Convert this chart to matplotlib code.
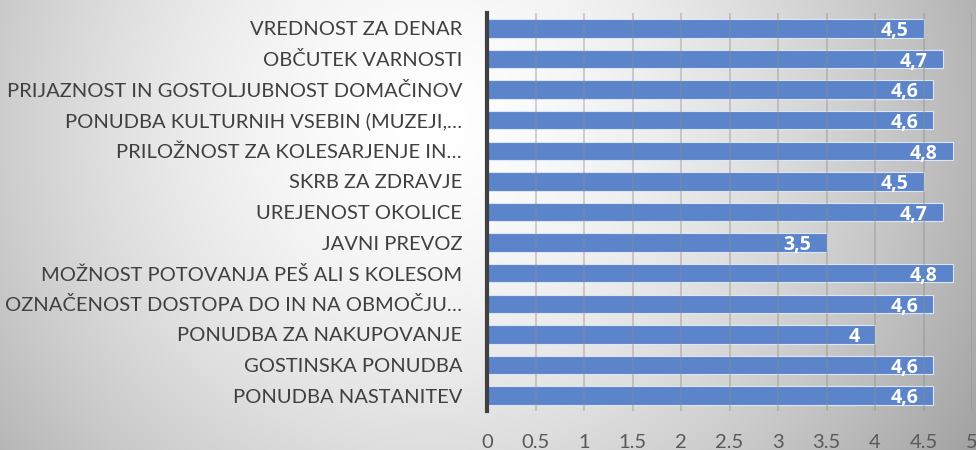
import matplotlib
matplotlib.use("Agg")
import matplotlib.pyplot as plt
import numpy as np

# categories top to bottom, as in the picture
categories = [
    "VREDNOST ZA DENAR",
    "OBČUTEK VARNOSTI",
    "PRIJAZNOST IN GOSTOLJUBNOST DOMAČINOV",
    "PONUDBA KULTURNIH VSEBIN (MUZEJI,…",
    "PRILOŽNOST ZA KOLESARJENJE IN…",
    "SKRB ZA ZDRAVJE",
    "UREJENOST OKOLICE",
    "JAVNI PREVOZ",
    "MOŽNOST POTOVANJA PEŠ ALI S KOLESOM",
    "OZNAČENOST DOSTOPA DO IN NA OBMOČJU…",
    "PONUDBA ZA NAKUPOVANJE",
    "GOSTINSKA PONUDBA",
    "PONUDBA NASTANITEV",
]
values = [4.5, 4.7, 4.6, 4.6, 4.8, 4.5, 4.7, 3.5, 4.8, 4.6, 4.0, 4.6, 4.6]
xticks = [0, 0.5, 1, 1.5, 2, 2.5, 3, 3.5, 4, 4.5, 5]

plt.rcParams['font.family'] = ['Lato', 'DejaVu Sans']

fig = plt.figure(figsize=(9.76, 4.5), dpi=100)

# radial grey background
bg = fig.add_axes([0, 0, 1, 1], zorder=-10)
W, H = 976, 450
xx, yy = np.meshgrid(np.arange(W), np.arange(H))
d = np.sqrt(((xx - 430) / 560.0) ** 2 + ((yy - 120) / 560.0) ** 2)
shade = 1.0 - 0.30 * np.clip(d, 0, 1.2) ** 1.6
bg.imshow(np.dstack([shade] * 3), aspect='auto', extent=(0, 1, 0, 1), vmin=0, vmax=1)
bg.axis('off')

ax = fig.add_axes([0.499, 0.087, 0.497, 0.884])
ax.patch.set_alpha(0)
y = np.arange(len(categories))
ax.barh(y, values, height=0.6, color='#5b84cb', edgecolor='#dce6f5', linewidth=0.8, zorder=2)

for yi, v in zip(y, values):
    lab = ('%g' % v).replace('.', ',')
    ax.annotate(lab, (v, yi), xytext=(-11, -2), textcoords='offset points',
                ha='right', va='center', color='white', fontsize=14,
                fontweight='bold', family=['Open Sans', 'DejaVu Sans'], zorder=4)

ax.set_ylim(len(categories) - 0.5, -0.5)
ax.set_xlim(0, 5)
ax.set_yticks(y)
ax.set_yticklabels(categories, fontsize=14.5, color='#404040')
ax.set_xticks(xticks)
ax.set_xticklabels(['%g' % t for t in xticks], fontsize=14.5, color='#595959')
ax.tick_params(axis='y', length=0, pad=18)
ax.tick_params(axis='x', length=0, pad=17)
ax.xaxis.grid(True, color='#8c8c8c', alpha=0.45, linewidth=1.2, zorder=3)
ax.set_axisbelow(False)
for s in ['top', 'right', 'bottom']:
    ax.spines[s].set_visible(False)
ax.spines['left'].set_color('#404040')
ax.spines['left'].set_linewidth(3)
ax.spines['left'].set_zorder(5)

fig.savefig('out.png', dpi=100)
